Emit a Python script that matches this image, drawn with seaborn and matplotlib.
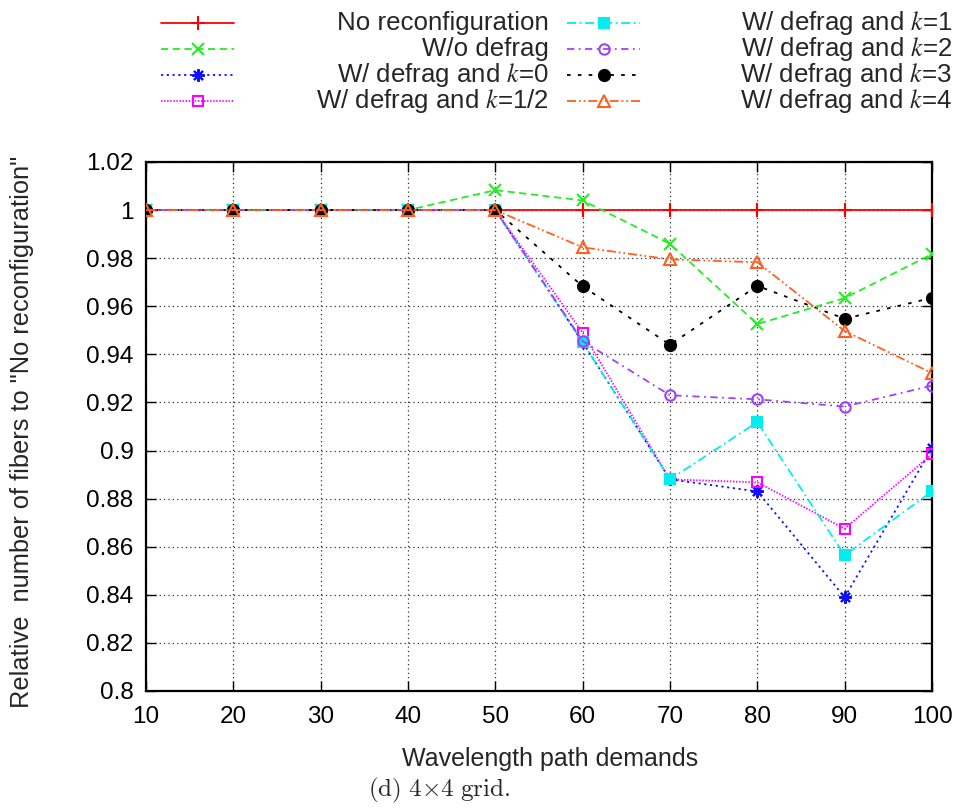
import matplotlib
matplotlib.use("Agg")
import matplotlib.pyplot as plt
import matplotlib.lines as mlines
import seaborn as sns
import pandas as pd

# ---- data ----
demands = [10, 20, 30, 40, 50, 60, 70, 80, 90, 100]
no_reconf = [1, 1, 1, 1, 1, 1, 1, 1, 1, 1]
wo_defrag = [1, 1, 1, 1, 1.0083, 1.0040, 0.9860, 0.9526, 0.9634, 0.9817]
k0 = [1, 1, 1, 1, 1, 0.9450, 0.8880, 0.8830, 0.8390, 0.9010]
k_half = [1, 1, 1, 1, 1, 0.9490, 0.8880, 0.8868, 0.8675, 0.8985]
k1 = [1, 1, 1, 1, 1, 0.9450, 0.8880, 0.9118, 0.8565, 0.8830]
k2 = [1, 1, 1, 1, 1, 0.9455, 0.9230, 0.9213, 0.9183, 0.9270]
k3 = [1, 1, 1, 1, 1, 0.9683, 0.9440, 0.9685, 0.9548, 0.9635]
k4 = [1, 1, 1, 1, 1, 0.9845, 0.9795, 0.9783, 0.9497, 0.9322]

labels = ["No reconfiguration", "W/o defrag", "W/ defrag and $k$=0",
          "W/ defrag and $k$=1/2", "W/ defrag and $k$=1", "W/ defrag and $k$=2",
          "W/ defrag and $k$=3", "W/ defrag and $k$=4"]
series = [no_reconf, wo_defrag, k0, k_half, k1, k2, k3, k4]
yticks = [0.8, 0.82, 0.84, 0.86, 0.88, 0.9, 0.92, 0.94, 0.96, 0.98, 1.0, 1.02]

# ---- styles ----
colors = ["#ff0000", "#22ee22", "#1010ff", "#ff00ff", "#00eeee", "#a040ff", "#000000", "#ff6020"]
markers = ["+", "x", (8, 2, 0), "s", "s", "o", "o", "^"]
filled = [True, True, True, False, True, False, True, False]
dashes = [(None, None), (0, (4, 2.5)), (0, (1.2, 2.0)), (0, (0.8, 0.9)),
          (0, (5, 2, 1, 2)), (0, (4, 2.5, 1, 2.5)), (0, (2, 4)), (0, (5, 1.6, 1, 1.6, 1, 1.6))]
msizes = [10, 8, 9, 7, 7, 7.5, 8, 8]

sns.set_style("ticks")
plt.rcParams["font.family"] = ["Liberation Sans", "DejaVu Sans"]
plt.rcParams["mathtext.fontset"] = "stix"

fig = plt.figure(figsize=(9.61, 8.09), dpi=100)
ax = fig.add_axes([146 / 961, 1 - 691 / 809, (932 - 146) / 961, (691 - 162) / 809])

for i, (lab, vals) in enumerate(zip(labels, series)):
    df = pd.DataFrame({"x": demands, "y": vals})
    ls = "-" if dashes[i] == (None, None) else dashes[i]
    sns.lineplot(data=df, x="x", y="y", ax=ax, color=colors[i], linestyle=ls,
                 linewidth=1.3, marker=markers[i], markersize=msizes[i],
                 markeredgecolor=colors[i],
                 markerfacecolor=colors[i] if filled[i] else "none",
                 markeredgewidth=1.5, sort=False, errorbar=None, zorder=3 + i)

ax.set_xlim(10, 100)
ax.set_ylim(0.8, 1.02)
ax.set_xticks(demands)
ax.set_yticks(yticks)
ax.set_yticklabels(["%g" % t for t in yticks])
ax.grid(True, color="#333333", linestyle=(0, (1, 2.5)), linewidth=0.9, zorder=1)
ax.set_axisbelow(True)
ax.tick_params(direction="in", length=7, width=1, top=True, right=True,
               labelsize=17.5, pad=9, colors="black")
ax.tick_params(axis="x", pad=11)
for sp in ax.spines.values():
    sp.set_linewidth(1.6)
    sp.set_color("black")

ax.set_xlabel("Wavelength path demands", fontsize=18)
ax.xaxis.set_label_coords(0.514, -0.105)
ax.xaxis.label.set_va("top")
ax.set_ylabel("")
fig.text(22 / 961, 1 - 432 / 809, 'Relative  number of fibers to "No reconfiguration"',
         rotation=90, ha="center", va="center", fontsize=18.3)

fig.text(439 / 961, 1 - 790 / 809, r"$\mathrm{(d)\ 4{\times}4\ grid.}$",
         ha="center", va="center", fontsize=18, math_fontfamily="cm")

# ---- legend (gnuplot style: sample left, text right-aligned) ----
rows = [23, 49, 75, 101]
cols = [(161, 234, 549), (567, 640, 952)]
for i, lab in enumerate(labels):
    c = cols[i // 4]
    yy = 1 - rows[i % 4] / 809
    ls = "-" if dashes[i] == (None, None) else dashes[i]
    fig.add_artist(mlines.Line2D([c[0] / 961, c[1] / 961], [yy, yy], transform=fig.transFigure,
                                 color=colors[i], linestyle=ls, linewidth=1.3))
    fig.add_artist(mlines.Line2D([(c[0] + c[1]) / 2 / 961], [yy], transform=fig.transFigure,
                                 color=colors[i], linestyle="none", marker=markers[i],
                                 markersize=msizes[i], markeredgecolor=colors[i],
                                 markerfacecolor=colors[i] if filled[i] else "none",
                                 markeredgewidth=1.5))
    fig.text(c[2] / 961, yy, lab, ha="right", va="center", fontsize=18.6)

fig.savefig("out.png", dpi=100)
